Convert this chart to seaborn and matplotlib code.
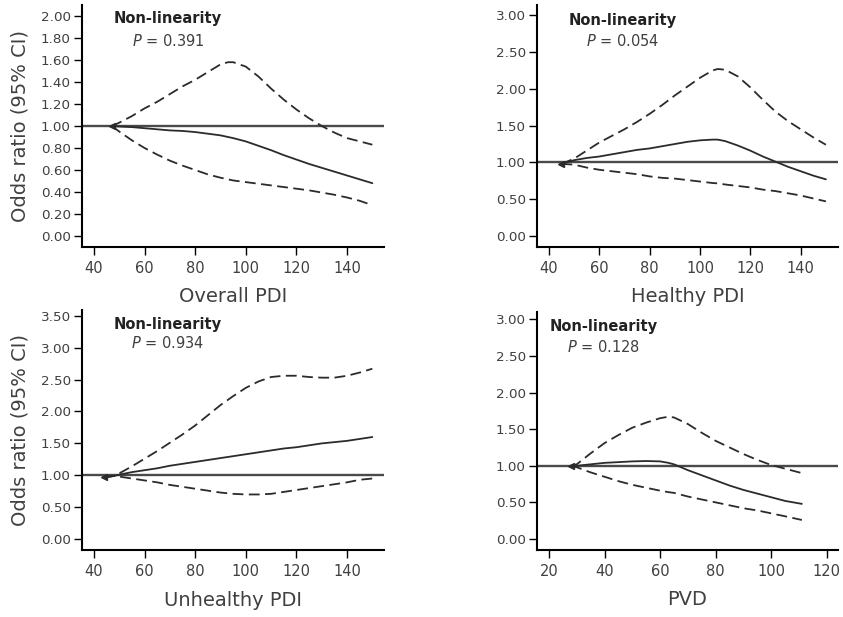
import numpy as np
import pandas as pd
import matplotlib
matplotlib.use("Agg")
import matplotlib.pyplot as plt
import seaborn as sns

# ---- data ----
# Overall PDI
overall_x = [47, 50, 55, 60, 65, 70, 75, 80, 85, 90, 93, 95, 100, 105, 110, 115, 120, 125, 130, 135, 140, 145, 150]
overall_or = [1.00, 0.995, 0.99, 0.98, 0.97, 0.96, 0.955, 0.945, 0.93, 0.915, 0.90, 0.89, 0.86, 0.82, 0.78, 0.735,
              0.695, 0.655, 0.62, 0.585, 0.55, 0.515, 0.48]
overall_hi = [1.00, 1.03, 1.09, 1.16, 1.22, 1.29, 1.36, 1.42, 1.49, 1.56, 1.58, 1.58, 1.54, 1.45, 1.34, 1.24,
              1.15, 1.07, 1.00, 0.94, 0.89, 0.86, 0.83]
overall_lo = [1.00, 0.95, 0.87, 0.80, 0.74, 0.685, 0.64, 0.60, 0.56, 0.53, 0.515, 0.505, 0.49, 0.475, 0.46, 0.445,
              0.43, 0.415, 0.395, 0.375, 0.35, 0.32, 0.28]

# Healthy PDI
healthy_x = [45, 50, 55, 60, 65, 70, 75, 80, 85, 90, 95, 100, 105, 107, 110, 115, 120, 125, 130, 135, 140, 145, 150]
healthy_or = [0.98, 1.03, 1.06, 1.08, 1.11, 1.14, 1.17, 1.19, 1.22, 1.25, 1.28, 1.30, 1.31, 1.31, 1.29, 1.23,
              1.16, 1.08, 1.01, 0.94, 0.88, 0.82, 0.77]
healthy_hi = [0.98, 1.05, 1.16, 1.27, 1.36, 1.45, 1.55, 1.66, 1.78, 1.91, 2.03, 2.15, 2.25, 2.27, 2.26, 2.17,
              2.02, 1.85, 1.69, 1.56, 1.45, 1.34, 1.24]
healthy_lo = [0.98, 0.97, 0.93, 0.90, 0.88, 0.86, 0.84, 0.81, 0.79, 0.78, 0.76, 0.74, 0.72, 0.715, 0.70, 0.68,
              0.66, 0.63, 0.61, 0.58, 0.55, 0.51, 0.47]

# Unhealthy PDI
unhealthy_x = [44, 48, 50, 55, 60, 65, 70, 75, 80, 85, 90, 95, 100, 105, 110, 115, 120, 125, 130, 135, 140, 145, 150]
unhealthy_or = [0.97, 0.99, 1.01, 1.05, 1.08, 1.11, 1.15, 1.18, 1.21, 1.24, 1.27, 1.30, 1.33, 1.36, 1.39, 1.42,
                1.44, 1.47, 1.50, 1.52, 1.54, 1.57, 1.60]
unhealthy_hi = [0.97, 0.99, 1.03, 1.14, 1.26, 1.38, 1.51, 1.64, 1.78, 1.94, 2.10, 2.24, 2.37, 2.47, 2.54, 2.56,
                2.56, 2.54, 2.53, 2.53, 2.56, 2.61, 2.67]
unhealthy_lo = [0.97, 0.99, 0.98, 0.95, 0.92, 0.89, 0.85, 0.82, 0.79, 0.76, 0.73, 0.71, 0.70, 0.70, 0.71, 0.74,
                0.77, 0.80, 0.83, 0.86, 0.89, 0.93, 0.95]

# PVD
pvd_x = [28, 30, 35, 40, 45, 50, 55, 60, 63, 65, 70, 75, 80, 85, 90, 95, 100, 105, 111]
pvd_or = [1.00, 1.00, 1.02, 1.04, 1.05, 1.06, 1.065, 1.06, 1.04, 1.02, 0.94, 0.87, 0.80, 0.73, 0.67, 0.62,
          0.57, 0.52, 0.48]
pvd_hi = [1.00, 1.02, 1.17, 1.31, 1.42, 1.52, 1.59, 1.65, 1.67, 1.66, 1.57, 1.45, 1.34, 1.25, 1.16, 1.08,
          1.01, 0.96, 0.90]
pvd_lo = [1.00, 0.98, 0.91, 0.85, 0.79, 0.74, 0.70, 0.66, 0.64, 0.63, 0.58, 0.54, 0.50, 0.46, 0.42, 0.39,
          0.35, 0.31, 0.26]

panel_labels = ["Overall PDI", "Healthy PDI", "Unhealthy PDI", "PVD"]
p_values = ["0.391", "0.054", "0.934", "0.128"]
x_ticks = [[40, 60, 80, 100, 120, 140], [40, 60, 80, 100, 120, 140],
           [40, 60, 80, 100, 120, 140], [20, 40, 60, 80, 100, 120]]
y_ticks = [np.arange(0, 2.01, 0.2), np.arange(0, 3.01, 0.5), np.arange(0, 3.51, 0.5), np.arange(0, 3.01, 0.5)]

sns.set_theme(style="ticks")
plt.rcParams['font.family'] = ['DejaVu Sans']
plt.rcParams['mathtext.fontset'] = 'dejavusans'

LINE = '#2b2b2b'
TXT = '#404040'
DASH = (0, (6, 3))

fig = plt.figure(figsize=(8.43, 6.17), dpi=100)

W, H = 843, 617
# axes boxes in pixels: left, top, right, bottom
boxes = [(82, 5, 384, 247), (537, 5, 838, 247), (82, 310, 384, 550), (537, 312, 838, 550)]
xlims = [(35.3, 154.6), (35.3, 154.8), (35.3, 154.6), (15.7, 124)]
ylims = [(-0.1, 2.1), (-0.15, 3.14), (-0.17, 3.59), (-0.15, 3.10)]
text_x = [0.285, 0.286, 0.285, 0.22]
text_y = [(0.946, 0.851), (0.938, 0.85), (0.9375, 0.862), (0.9375, 0.852)]
xlabel_y = [-0.165, -0.165, -0.17, -0.17]

data = [
    (overall_x, overall_or, overall_hi, overall_lo),
    (healthy_x, healthy_or, healthy_hi, healthy_lo),
    (unhealthy_x, unhealthy_or, unhealthy_hi, unhealthy_lo),
    (pvd_x, pvd_or, pvd_hi, pvd_lo),
]

for i, (l, t, r, b) in enumerate(boxes):
    ax = fig.add_axes([l / W, 1 - b / H, (r - l) / W, (b - t) / H])
    ax.patch.set_alpha(0)
    xs, yor, yhi, ylo = data[i]
    df = pd.DataFrame({'x': xs, 'or': yor, 'hi': yhi, 'lo': ylo})

    ax.axhline(1.0, color='#4a4a4a', lw=1.7, zorder=1)
    sns.lineplot(data=df, x='x', y='hi', ax=ax, color=LINE, lw=1.3, linestyle=DASH)
    sns.lineplot(data=df, x='x', y='lo', ax=ax, color=LINE, lw=1.3, linestyle=DASH)
    sns.lineplot(data=df, x='x', y='or', ax=ax, color=LINE, lw=1.3)
    ax.plot(xs[0], yor[0], marker='<', color=LINE, ms=4, zorder=5)

    ax.set_xlim(*xlims[i])
    ax.set_ylim(*ylims[i])
    ax.set_xticks(x_ticks[i])
    ax.set_yticks(y_ticks[i])
    ax.set_yticklabels([f"{v:.2f}" for v in y_ticks[i]])
    ax.tick_params(axis='y', labelsize=9.7, colors='black', labelcolor=TXT, length=6, width=1, pad=2)
    ax.tick_params(axis='x', labelsize=10.5, colors='black', labelcolor=TXT, length=6, width=1, pad=4)
    for s in ['top', 'right']:
        ax.spines[s].set_visible(False)
    for s in ['left', 'bottom']:
        ax.spines[s].set_linewidth(1.5)
        ax.spines[s].set_color('black')

    ax.set_xlabel(panel_labels[i], fontsize=14, color=TXT)
    ax.xaxis.set_label_coords(0.5, xlabel_y[i])
    if i % 2 == 0:
        ax.set_ylabel("Odds ratio (95% CI)", fontsize=14, color=TXT)
        ax.yaxis.set_label_coords(-0.175, 0.5)
    else:
        ax.set_ylabel("")

    ax.text(text_x[i], text_y[i][0], "Non-linearity", transform=ax.transAxes, ha='center', va='center',
            fontsize=10.5, fontweight='bold', color='#222222')
    ax.text(text_x[i], text_y[i][1], f"$P$ = {p_values[i]}", transform=ax.transAxes, ha='center',
            va='center', fontsize=10.5, color=TXT)

fig.savefig("out.png", dpi=100)
